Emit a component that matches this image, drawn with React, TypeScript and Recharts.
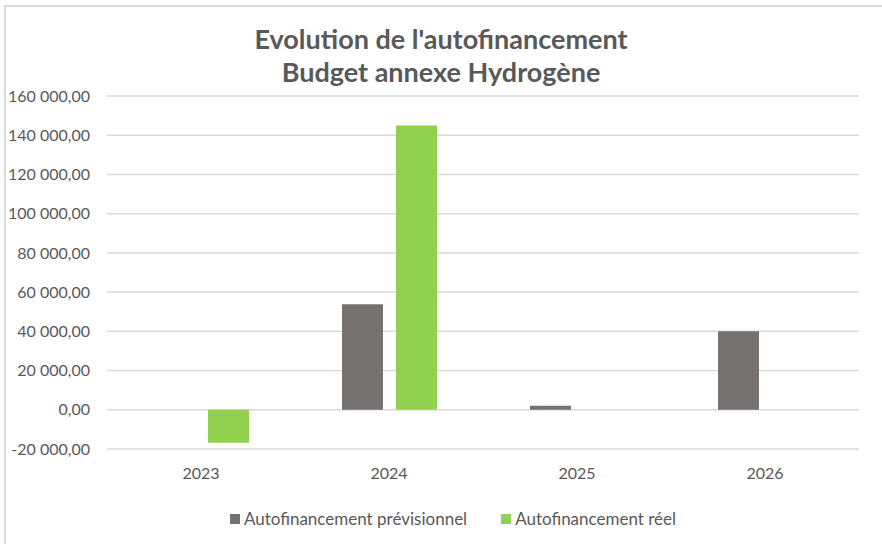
import React from "react";
import { BarChart, Bar, XAxis, YAxis, CartesianGrid } from "recharts";

const years = ["2023", "2024", "2025", "2026"];
const previsionnel = [0, 53800, 2000, 40000];
const reel = [-16800, 145000, 0, 0];
const yTicks = [-20000, 0, 20000, 40000, 60000, 80000, 100000, 120000, 140000, 160000];
const titleLines = ["Evolution de l'autofinancement", "Budget annexe Hydrogène"];
const seriesNames = ["Autofinancement prévisionnel", "Autofinancement réel"];
const colors = ["#767171", "#92D050"];

const data = years.map((y, i) => ({ year: y, prev: previsionnel[i], reel: reel[i] }));

const FONT = "Lato, 'Open Sans', sans-serif";

function fmt(v: number): string {
  const neg = v < 0;
  const s = Math.abs(Math.round(v)).toString();
  const grouped = s.replace(/\B(?=(\d{3})+(?!\d))/g, " ");
  return (neg ? "-" : "") + grouped + ",00";
}

export default function App() {
  return (
    <div style={{ position: "fixed", left: 0, top: 0, width: 882, height: 544, background: "#fff", overflow: "hidden" }}>
      <div style={{ position: "absolute", left: 4, top: 5, width: 900, height: 560, borderTop: "2px solid #d9d9d9", borderLeft: "2px solid #d9d9d9" }} />
      <div style={{ position: "absolute", left: 0, width: 882, top: 22, textAlign: "center", fontFamily: FONT, fontWeight: 700, fontSize: 27, color: "#595959", lineHeight: "33px" }}>
        {titleLines.map((t) => (
          <div key={t}>{t}</div>
        ))}
      </div>
      <div style={{ position: "absolute", left: 0, top: 0 }}>
        <BarChart width={882} height={544} data={data} margin={{ top: 96, right: 23, bottom: 65, left: 0 }} barSize={41} barGap={13}>
          <CartesianGrid vertical={false} stroke="#d9d9d9" strokeWidth={1.5} />
          <XAxis dataKey="year" height={30} axisLine={false} tickLine={false} tick={{ fill: "#595959", fontSize: 16, fontFamily: FONT }} tickMargin={13} />
          <YAxis
            width={107}
            domain={[-20000, 160000]}
            ticks={yTicks}
            tickFormatter={fmt}
            axisLine={false}
            tickLine={false}
            tickSize={0}
            tickMargin={17}
            interval={0}
            tick={{ fill: "#595959", fontSize: 16, fontFamily: FONT }}
          />
          <Bar dataKey="prev" name={seriesNames[0]} fill={colors[0]} isAnimationActive={false} />
          <Bar dataKey="reel" name={seriesNames[1]} fill={colors[1]} isAnimationActive={false} />
        </BarChart>
      </div>
      <div style={{ position: "absolute", left: 12, width: 882, top: 508, display: "flex", justifyContent: "center", gap: 34, fontFamily: FONT, fontSize: 17, color: "#595959", lineHeight: "22px" }}>
        {seriesNames.map((n, i) => (
          <div key={n} style={{ display: "flex", alignItems: "center" }}>
            <span style={{ width: 10, height: 10, background: colors[i], display: "inline-block", marginRight: 4 }} />
            <span>{n}</span>
          </div>
        ))}
      </div>
    </div>
  );
}
